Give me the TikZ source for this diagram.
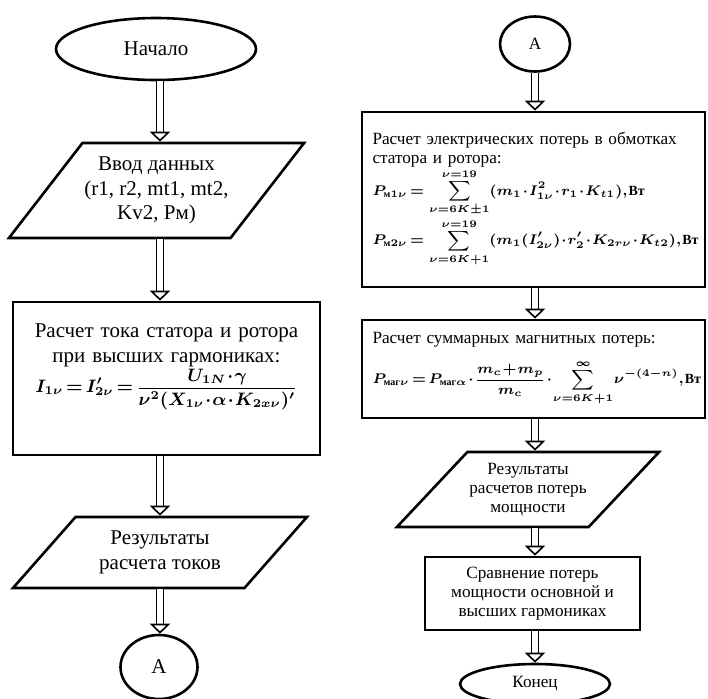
\documentclass[tikz,border=0pt]{standalone}
\usepackage{amsmath}
\usepackage{fontspec}
\setmainfont{Liberation Serif}
\usetikzlibrary{positioning,arrows.meta,shapes.geometric,calc}
\newcommand{\lsize}{\fontsize{10.5}{12.2}\selectfont}
\newcommand{\rsize}{\fontsize{8.6}{9.4}\selectfont}
\newcommand{\cyr}[1]{\textbf{#1}}
\newcommand{\fml}[2]{\mbox{\fontsize{#1}{#1}\selectfont\boldmath
  \medmuskip=1mu\thickmuskip=2.5mu\thinmuskip=1mu$\displaystyle #2$}}

\begin{document}
\begin{tikzpicture}[x=0.5pt, y=-0.5pt, font=\lsize,
      term/.style={ellipse, draw, line width=1.3pt, inner sep=0pt},
      io/.style={trapezium, trapezium left angle=#1, trapezium right angle=180-#1,
                trapezium stretches body=true, draw, line width=1.3pt, align=center, inner sep=1pt},
      proc/.style={draw, line width=1.3pt},
      dbl/.style={double, double distance=2.6pt, line width=0.8pt,
                -{Triangle[open, width=10pt, length=5pt, line width=0.8pt]}}]
    \useasboundingbox (0,0) rectangle (708,698);
    \coordinate (colL) at (160,0);
    \coordinate (colR) at (535,0);
    % left column
    \node[term, minimum width=100pt, minimum height=31pt] (start) at (156,49) {Начало};
    \node[io=44, minimum width=143.5pt, minimum height=47.5pt] (input) at (156.5,190.5)
      {Ввод данных\\(r1, r2, mt1, mt2,\\Kv2, Pм)};
    \node[proc, minimum width=153.5pt, minimum height=76.5pt, text width=145pt, align=center] (curr) at (166.5,378.5)
      {Расчет тока статора и ротора\\при высших гармониках:\\
       \fml{9}{I_{1\nu}=I^{\prime}_{2\nu}=\frac{U_{1N}\cdot\gamma}{\nu^{2}(X_{1\nu}\cdot\alpha\cdot K_{2x\nu})^{\prime}}}\rule[-20pt]{0pt}{20pt}};
    \node[io=36.7, minimum width=147pt, minimum height=35.5pt] (res1) at (160,552.5)
      {Результаты\\расчета токов};
    \node[term, minimum width=38.5pt, minimum height=32pt] (connL) at (159,667) {А};
    % right column
    \node[term, font=\rsize, minimum width=35pt, minimum height=27.5pt] (connR) at (535,44) {А};
    \node[proc, font=\rsize, minimum width=171.5pt, minimum height=87.5pt, text width=161pt, align=left] (elec) at (533.5,199.5)
      {Расчет электрических потерь в обмотках\\статора и ротора:\\
       \fml{7}{P_{\cyr{м}1\nu}=\;\sum_{\nu=6K\pm1}^{\nu=19}(m_1\cdot I_{1\nu}^{2}\cdot r_1\cdot K_{t1}),\cyr{Вт}}\rule[-3pt]{0pt}{3pt}\\
       \fml{7}{P_{\cyr{м}2\nu}=\;\sum_{\nu=6K+1}^{\nu=19}(m_1(I^{\prime}_{2\nu})\cdot r^{\prime}_2\cdot K_{2r\nu}\cdot K_{t2}),\cyr{Вт}}\rule[-7pt]{0pt}{7pt}};
    \node[proc, font=\rsize, minimum width=171.5pt, minimum height=49pt, text width=161pt, align=left] (magn) at (533.5,369)
      {Расчет суммарных магнитных потерь:\\
       \fml{7}{P_{\cyr{маг}\nu}=P_{\cyr{маг}\alpha}\cdot\frac{m_c+m_p}{m_c}\cdot\sum_{\nu=6K+1}^{\infty}\nu^{-(4-n)},\cyr{Вт}}\rule{0pt}{17pt}};
    \node[io=38.7, font=\rsize, minimum width=125pt, minimum height=37.5pt] (res2) at (528,489.5)
      {Результаты\\расчетов потерь\\мощности};
    \node[proc, font=\rsize, minimum width=107.5pt, minimum height=36.5pt, align=center] (comp) at (532.5,593.5)
      {Сравнение потерь\\мощности основной и\\высших гармониках};
    \node[term, font=\rsize, minimum width=75pt, minimum height=20pt] (stop) at (535,684) {Конец};
    % arrows
    \draw[dbl] (start.south -| colL) -- (input.north -| colL);
    \draw[dbl] (input.south -| colL) -- (curr.north -| colL);
    \draw[dbl] (curr.south -| colL) -- (res1.north -| colL);
    \draw[dbl] (res1.south -| colL) -- (connL.north -| colL);
    \draw[dbl] (connR.south -| colR) -- (elec.north -| colR);
    \draw[dbl] (elec.south -| colR) -- (magn.north -| colR);
    \draw[dbl] (magn.south -| colR) -- (res2.north -| colR);
    \draw[dbl] (res2.south -| colR) -- (comp.north -| colR);
    \draw[dbl] (comp.south -| colR) -- (stop.north -| colR);
  \end{tikzpicture}
\end{document}
